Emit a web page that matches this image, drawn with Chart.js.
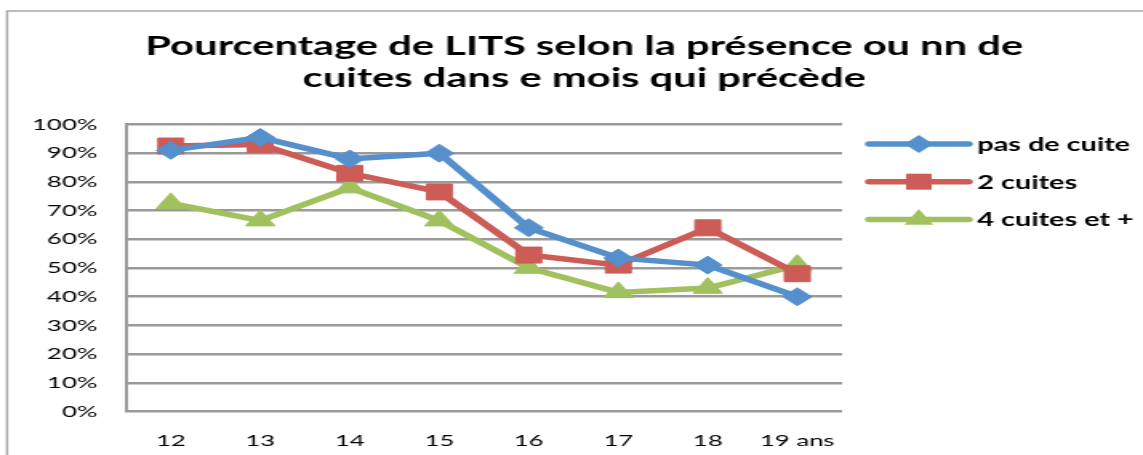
<!DOCTYPE html>
<html>
<head>
<meta charset="utf-8">
<script src="https://cdn.jsdelivr.net/npm/chart.js@4/dist/chart.umd.min.js"></script>
<style>
  html, body { margin: 0; padding: 0; background: #fff; overflow: hidden; }
  /* the reference is stretched sideways, so draw narrow and scale it out */
  #wrap { width: 714px; height: 455px; transform: scaleX(1.6008); transform-origin: 0 0; }
</style>
</head>
<body>
<div id="wrap"><canvas id="chart"></canvas></div>
<script>
const ages = ['12', '13', '14', '15', '16', '17', '18', '19 ans']
const pasDeCuite = [91, 95.5, 88, 90, 64, 53.5, 51, 40]
const deuxCuites = [92.5, 93, 83, 76.5, 54.5, 51, 64, 48]
const quatreCuites = [72.5, 66.5, 78, 66.5, 50, 41.5, 43, 51]
const seriesNames = ['pas de cuite', '2 cuites', '4 cuites et +']
const titleLines = ['Pourcentage de LITS selon la présence ou nn de', 'cuites dans e mois qui précède']

const blue = '#5590cc'
const red = '#cd5c57'
const green = '#a0c15e'

// grey frame round the whole chart (top and left edge are visible)
const frame = {
  id: 'frame',
  beforeDraw(chart){
    const ctx = chart.ctx
    ctx.save()
    ctx.strokeStyle = '#a6a6a6'
    ctx.lineWidth = 1.4
    ctx.beginPath()
    ctx.moveTo(4.4, chart.height + 5)
    ctx.lineTo(4.4, 11)
    ctx.lineTo(chart.width + 5, 11)
    ctx.stroke()
    ctx.restore()
  }
}

function marker(ctx, style, x, y, r){
  ctx.beginPath()
  if(style === 'rect'){
    const s = r * Math.SQRT1_2
    ctx.rect(x - s, y - s, 2 * s, 2 * s)
  } else if(style === 'rectRot'){
    ctx.moveTo(x, y - r); ctx.lineTo(x + r, y); ctx.lineTo(x, y + r); ctx.lineTo(x - r, y)
    ctx.closePath()
  } else {
    ctx.moveTo(x, y - r)
    ctx.lineTo(x + r * Math.sin(Math.PI * 2 / 3), y - r * Math.cos(Math.PI * 2 / 3))
    ctx.lineTo(x + r * Math.sin(Math.PI * 4 / 3), y - r * Math.cos(Math.PI * 4 / 3))
    ctx.closePath()
  }
  ctx.fill()
}

// excel style legend: line with the marker on it, bold text after
const sideLegend = {
  id: 'sideLegend',
  afterDraw(chart){
    const ctx = chart.ctx
    ctx.save()
    chart.data.datasets.forEach((ds, i) => {
      const y = 144 + i * 37.7
      ctx.strokeStyle = ds.borderColor
      ctx.fillStyle = ds.borderColor
      ctx.lineWidth = 5.5
      ctx.lineCap = 'round'
      ctx.beginPath()
      ctx.moveTo(543, y)
      ctx.lineTo(605, y)
      ctx.stroke()
      marker(ctx, ds.pointStyle, 574, y, ds.pointRadius)
      ctx.fillStyle = '#000'
      ctx.font = 'bold 18px Lato'
      ctx.textBaseline = 'middle'
      ctx.textAlign = 'left'
      ctx.fillText(ds.label, 610.5, y + 1)
    })
    ctx.restore()
  }
}

function serie(label, data, color, style, radius){
  return {
    label: label,
    data: data,
    borderColor: color,
    backgroundColor: color,
    borderWidth: 5.5,
    pointStyle: style,
    pointRadius: radius,
    pointHoverRadius: radius,
    pointBorderWidth: 1,
    pointBackgroundColor: color,
    pointBorderColor: color,
    tension: 0
  }
}

const ctx = document.getElementById('chart')
const myChart = new Chart(ctx, {
  type: 'line',
  data: {
    labels: ages,
    datasets: [
      serie(seriesNames[0], pasDeCuite, blue, 'rectRot', 9),
      serie(seriesNames[1], deuxCuites, red, 'rect', 11.3),
      serie(seriesNames[2], quatreCuites, green, 'triangle', 10.5)
    ]
  },
  options: {
    responsive: true,
    maintainAspectRatio: false,
    animation: false,
    layout: { padding: { top: 14, left: 16, right: 0, bottom: 0 } },
    plugins: {
      legend: { display: false },
      tooltip: { enabled: false },
      title: {
        display: true,
        text: titleLines,
        color: '#000',
        font: { family: 'Lato', size: 26, weight: 'bold', lineHeight: 1.24 },
        padding: { top: 16, bottom: 30 }
      }
    },
    scales: {
      x: {
        offset: true,
        afterFit: s => { s.height = 43.5 },
        grid: { display: false, drawTicks: false },
        border: { display: false },
        ticks: { color: '#000', padding: 20, font: { family: 'Lato', size: 16 }, maxRotation: 0 }
      },
      y: {
        min: 0,
        max: 100,
        afterFit: s => { s.width = 62.75 },
        grid: { color: '#9a9a9a', lineWidth: 2.5, drawTicks: false },
        border: { display: true, color: '#9a9a9a', width: 2 },
        ticks: {
          stepSize: 10,
          color: '#000',
          padding: 18,
          font: { family: 'Lato', size: 16 },
          callback: v => v + '%'
        }
      },
      // empty axis only to keep room for the legend on the right
      room: {
        type: 'linear',
        position: 'right',
        display: true,
        afterFit: s => { s.width = 188 },
        grid: { display: false },
        border: { display: false },
        ticks: { display: false }
      }
    }
  },
  plugins: [frame, sideLegend]
})
</script>
</body>
</html>
